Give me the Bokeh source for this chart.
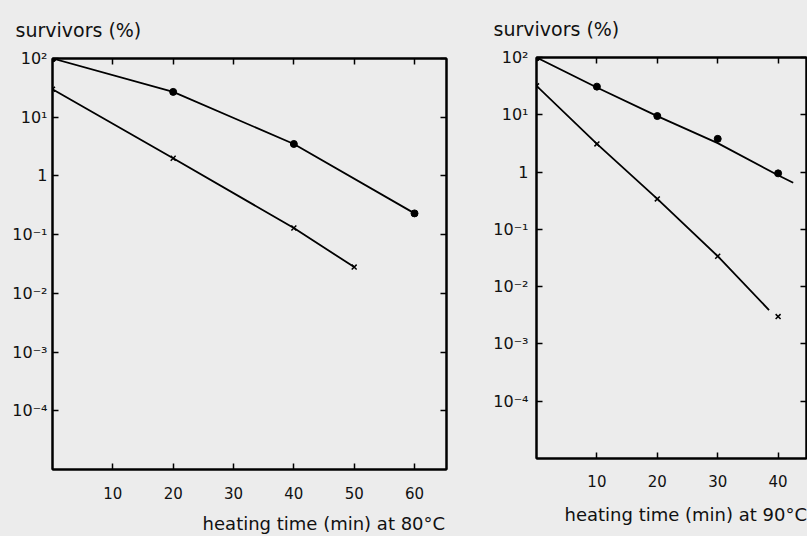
from bokeh.plotting import figure
from bokeh.models import Range1d, LogAxis, LinearAxis, FixedTicker, CustomJSTickFormatter
from bokeh.layouts import row, column
from bokeh.embed import file_html
from bokeh.resources import INLINE

# ---- data ----
y_tick_values = [1e-4, 1e-3, 1e-2, 1e-1, 1, 10, 100]
y_tick_labels = ["10⁻⁴", "10⁻³", "10⁻²", "10⁻¹", "1", "10¹", "10²"]

# 80 °C panel
t80_dot = [0, 20, 40, 60]
s80_dot = [100, 27, 3.5, 0.23]
t80_cross = [0, 20, 40, 50]
s80_cross = [30, 2.0, 0.13, 0.028]
x80_ticks = [10, 20, 30, 40, 50, 60]

# 90 °C panel
t90_dot = [0, 10, 20, 30, 40]
s90_dot = [100, 31, 9.5, 3.8, 0.95]
t90_dot_curve = [0, 10, 20, 30, 40, 42.5]
s90_dot_curve = [100, 30, 9.5, 3.2, 0.88, 0.65]
t90_cross = [0, 10, 20, 30, 40]
s90_cross = [32, 3.1, 0.34, 0.034, 0.0030]
t90_cross_curve = [0, 10, 20, 30, 38.5]
s90_cross_curve = [32, 3.1, 0.34, 0.034, 0.0039]
x90_ticks = [10, 20, 30, 40]

BG = "#ececec"
FONT = "DejaVu Sans"
NBSP = "\u00a0"


def make_panel(width, height, bl, br, bt, bb, xmax, xticks, title, title_offset,
               xlabel, pad, tick_standoff, label_standoff, ystandoff,
               td, sd, tdc, sdc, tc, sc, tcc, scc):
    p = figure(width=width, height=height, y_axis_type="log",
               x_range=Range1d(0, xmax), y_range=Range1d(1e-5, 1e2),
               output_backend="svg", toolbar_location=None,
               min_border_left=bl, min_border_right=br,
               min_border_top=bt, min_border_bottom=bb)
    p.background_fill_color = BG
    p.border_fill_color = BG
    p.outline_line_color = "black"
    p.outline_line_width = 2
    p.grid.visible = False

    p.title.text = title
    p.title.align = "left"
    p.title.vertical_align = "top"
    p.title.offset = title_offset
    p.title.text_font = FONT
    p.title.text_font_size = "19px"
    p.title.text_font_style = "normal"
    p.title.text_color = "#111111"
    p.title.standoff = 31

    fmt = CustomJSTickFormatter(args=dict(vals=y_tick_values, labs=y_tick_labels), code="""
        for (let i = 0; i < vals.length; i++) {
            if (Math.abs(Math.log10(vals[i]) - Math.log10(tick)) < 1e-6) return labs[i];
        }
        return '';
    """)
    blank = CustomJSTickFormatter(code="return '';")

    ya = p.yaxis[0]
    ya.ticker = FixedTicker(ticks=y_tick_values)
    ya.formatter = fmt
    xa = p.xaxis[0]
    xa.ticker = FixedTicker(ticks=xticks)
    xa.major_label_standoff = tick_standoff
    # label kept right-aligned to the frame's end: leading no-break spaces shift the centred text
    xa.axis_label = NBSP * pad + xlabel
    xa.axis_label_standoff = label_standoff
    xa.axis_label_text_font = FONT
    xa.axis_label_text_font_size = "18px"
    xa.axis_label_text_font_style = "normal"
    xa.axis_label_text_color = "#111111"
    ya.major_label_standoff = ystandoff

    ra = LogAxis(ticker=FixedTicker(ticks=y_tick_values), formatter=blank)
    ta = LinearAxis(ticker=FixedTicker(ticks=xticks), formatter=blank)
    p.add_layout(ra, "right")
    p.add_layout(ta, "above")

    for ax in [xa, ya, ra, ta]:
        ax.axis_line_color = "black"
        ax.axis_line_width = 2
        ax.major_tick_in = 6
        ax.major_tick_out = 0
        ax.major_tick_line_width = 1.5
        ax.major_tick_line_color = "black"
        ax.minor_tick_line_color = None
        ax.major_label_text_font = FONT
        ax.major_label_text_font_size = "15px"
        ax.major_label_text_color = "#111111"
    ya.major_label_text_font_size = "16px"
    ra.major_label_standoff = 0
    ta.major_label_standoff = 0

    p.line(tdc, sdc, line_color="black", line_width=1.8)
    p.line(tcc, scc, line_color="black", line_width=1.8)
    p.scatter(td, sd, marker="circle", size=7, fill_color="black", line_color="black")
    p.scatter(tc, sc, marker="x", size=7, line_color="black", line_width=1.5)
    return p


p1 = make_panel(455, 536, 52, 9, 58, 67, 65.3, x80_ticks, "survivors (%)", -37,
                "heating time (min) at 80°C", 26, 17, 11, 5,
                t80_dot, s80_dot, t80_dot, s80_dot,
                t80_cross, s80_cross, t80_cross, s80_cross)
p2 = make_panel(352, 536, 81, 1, 57, 78, 44.7, x90_ticks, "survivors (%)", -43,
                "heating time (min) at 90°C", 5, 16, 14, 8,
                t90_dot, s90_dot, t90_dot_curve, s90_dot_curve,
                t90_cross, s90_cross, t90_cross_curve, s90_cross_curve)

layout = row(column(p1), column(p2), spacing=0)
layout.background = BG
open("out.html", "w").write(file_html(layout, INLINE))
